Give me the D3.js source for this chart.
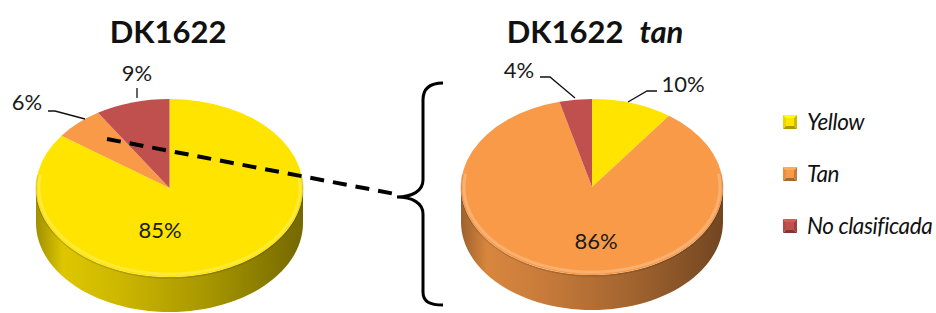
<!DOCTYPE html>
<html><head><meta charset="utf-8">
<script src="https://cdn.jsdelivr.net/npm/d3@7/dist/d3.min.js"></script>
<style>body{margin:0;background:#fff}svg{display:block}</style>
</head><body>
<svg id="c" width="936" height="313"></svg>
<script>
const categories = ["Yellow", "Tan", "No clasificada"];
const dk1622 = [85, 6, 9];
const dk1622tan = [10, 86, 4];
const titles = ["DK1622", "DK1622"];
const colors = ["#FFE400", "#F99A48", "#C0504D"];

const svg = d3.select("#c");
const defs = svg.append("defs");
const FONT = "Lato, 'Open Sans', sans-serif";
const color = d3.scaleOrdinal().domain(categories).range(colors);
const pie = d3.pie().sort(null).value(d => d.v);

const pies = [
  {data: dk1622, cx: 169.5, cy: 188, rx: 133.5, ry: 89, depth: 35, title: titles[0], tx: 168, italic: null,
   labels: [{x: 160, y: 238}, {x: 27, y: 110, lead: [[48,111],[55,111],[85,119]]}, {x: 137, y: 81, lead: [[137,88],[137,98]]}]},
  {data: dk1622tan, cx: 592, cy: 187, rx: 131, ry: 88, depth: 35, title: titles[1], tx: 595, italic: "tan",
   labels: [{x: 683, y: 92, lead: [[657,91],[647,91],[628,102]]}, {x: 596, y: 249}, {x: 519, y: 78, lead: [[540,77],[550,77],[575,98]]}]}
];

pies.forEach((p, pi) => {
  const g = svg.append("g");
  const arcs = pie(categories.map((c, i) => ({c, v: p.data[i]})));
  const pt = (a, dy) => [p.cx + p.rx * Math.sin(a), p.cy - p.ry * Math.cos(a) + (dy || 0)];

  categories.forEach((c, i) => {
    const base = d3.color(color(c));
    const gr = defs.append("linearGradient").attr("id", `side${pi}_${i}`)
      .attr("gradientUnits", "userSpaceOnUse")
      .attr("x1", p.cx - p.rx).attr("x2", p.cx + p.rx).attr("y1", 0).attr("y2", 0);
    [[0, base.darker(1.3)], [0.1, base.darker(0.4)], [0.3, base.darker(0.6)], [0.65, base.darker(1.2)], [1, base.darker(2.2)]]
      .forEach(([o, col]) => gr.append("stop").attr("offset", o).attr("stop-color", col));
  });

  arcs.forEach((a, i) => {
    const s = Math.max(a.startAngle, Math.PI / 2), e = Math.min(a.endAngle, 3 * Math.PI / 2);
    if (e <= s) return;
    const n = 60, top = [], bot = [];
    for (let k = 0; k <= n; k++) {
      const ang = s + (e - s) * k / n;
      top.push(pt(ang)); bot.push(pt(ang, p.depth));
    }
    g.append("path").attr("d", d3.line()(top.concat(bot.reverse())) + "Z").attr("fill", `url(#side${pi}_${i})`);
  });

  const arc = d3.arc().innerRadius(0).outerRadius(p.rx);
  const top = g.append("g").attr("transform", `translate(${p.cx},${p.cy}) scale(1,${p.ry / p.rx})`);
  top.selectAll("path").data(arcs).join("path")
    .attr("d", arc).attr("fill", d => color(d.data.c));

  const rim = [];
  for (let k = 0; k <= 80; k++) {
    const ang = Math.PI * 0.45 + Math.PI * 1.1 * k / 80;
    rim.push([p.cx + (p.rx - 3) * Math.sin(ang), p.cy - (p.ry - 3) * Math.cos(ang)]);
  }
  g.append("path").attr("d", d3.line()(rim)).attr("fill", "none")
    .attr("stroke", "#fff").attr("stroke-opacity", 0.22).attr("stroke-width", 3);
  const rim2 = [];
  for (let k = 0; k <= 80; k++) {
    const ang = Math.PI * 0.45 + Math.PI * 1.1 * k / 80;
    rim2.push([p.cx + p.rx * Math.sin(ang), p.cy - p.ry * Math.cos(ang) + 1]);
  }
  g.append("path").attr("d", d3.line()(rim2)).attr("fill", "none")
    .attr("stroke", "#000").attr("stroke-opacity", 0.12).attr("stroke-width", 1.5);

  const t = svg.append("text").attr("x", p.tx).attr("y", 43).attr("text-anchor", "middle")
    .attr("font-family", FONT).attr("font-weight", "bold").attr("font-size", 31).attr("fill", "#111");
  t.append("tspan").text(p.title);
  if (p.italic) t.append("tspan").attr("dx", 16).attr("font-style", "italic").text(p.italic);

  arcs.forEach((a, i) => {
    const L = p.labels[i];
    if (L.lead) svg.append("path").attr("d", d3.line()(L.lead)).attr("fill", "none")
      .attr("stroke", "#111").attr("stroke-width", 1.3);
    svg.append("text").attr("x", L.x).attr("y", L.y).attr("text-anchor", "middle")
      .attr("font-family", FONT).attr("font-size", 22).attr("fill", "#1a1a1a")
      .text(d3.format(".0%")(a.data.v / 100));
  });
});

svg.append("line").attr("x1", 107).attr("y1", 139).attr("x2", 395).attr("y2", 194)
  .attr("stroke", "#000").attr("stroke-width", 4).attr("stroke-dasharray", "14,9");

svg.append("path")
  .attr("d", "M443,83 C430,83 423,88 423,100 L423,180 C423,191 412,197 397,197 C412,197 423,203 423,214 L423,292 C423,302 430,305 443,305")
  .attr("fill", "none").attr("stroke", "#000").attr("stroke-width", 3);

const leg = svg.append("g").attr("transform", "translate(783,0)");
const ly = d3.scalePoint().domain(categories).range([122, 226]);
categories.forEach(c => {
  const y = ly(c), s = 14, x0 = 0, y0 = y - s / 2, base = d3.color(color(c));
  const cxm = x0 + s / 2, cym = y;
  const tri = (pts, col) => leg.append("path").attr("d", d3.line()(pts) + "Z").attr("fill", col);
  tri([[x0, y0], [x0 + s, y0], [cxm, cym]], base.brighter(0.3));
  tri([[x0, y0], [x0, y0 + s], [cxm, cym]], base.darker(0.2));
  tri([[x0 + s, y0], [x0 + s, y0 + s], [cxm, cym]], base.darker(0.6));
  tri([[x0, y0 + s], [x0 + s, y0 + s], [cxm, cym]], base.darker(1.1));
  leg.append("rect").attr("x", x0 + 3).attr("y", y0 + 3).attr("width", s - 6).attr("height", s - 6).attr("fill", base);
  leg.append("text").attr("x", 24).attr("y", y + 7.5).attr("font-family", FONT).attr("font-style", "italic")
    .attr("font-size", 22.5).attr("letter-spacing", -0.4).attr("fill", "#111").text(c);
});
</script>
</body></html>
